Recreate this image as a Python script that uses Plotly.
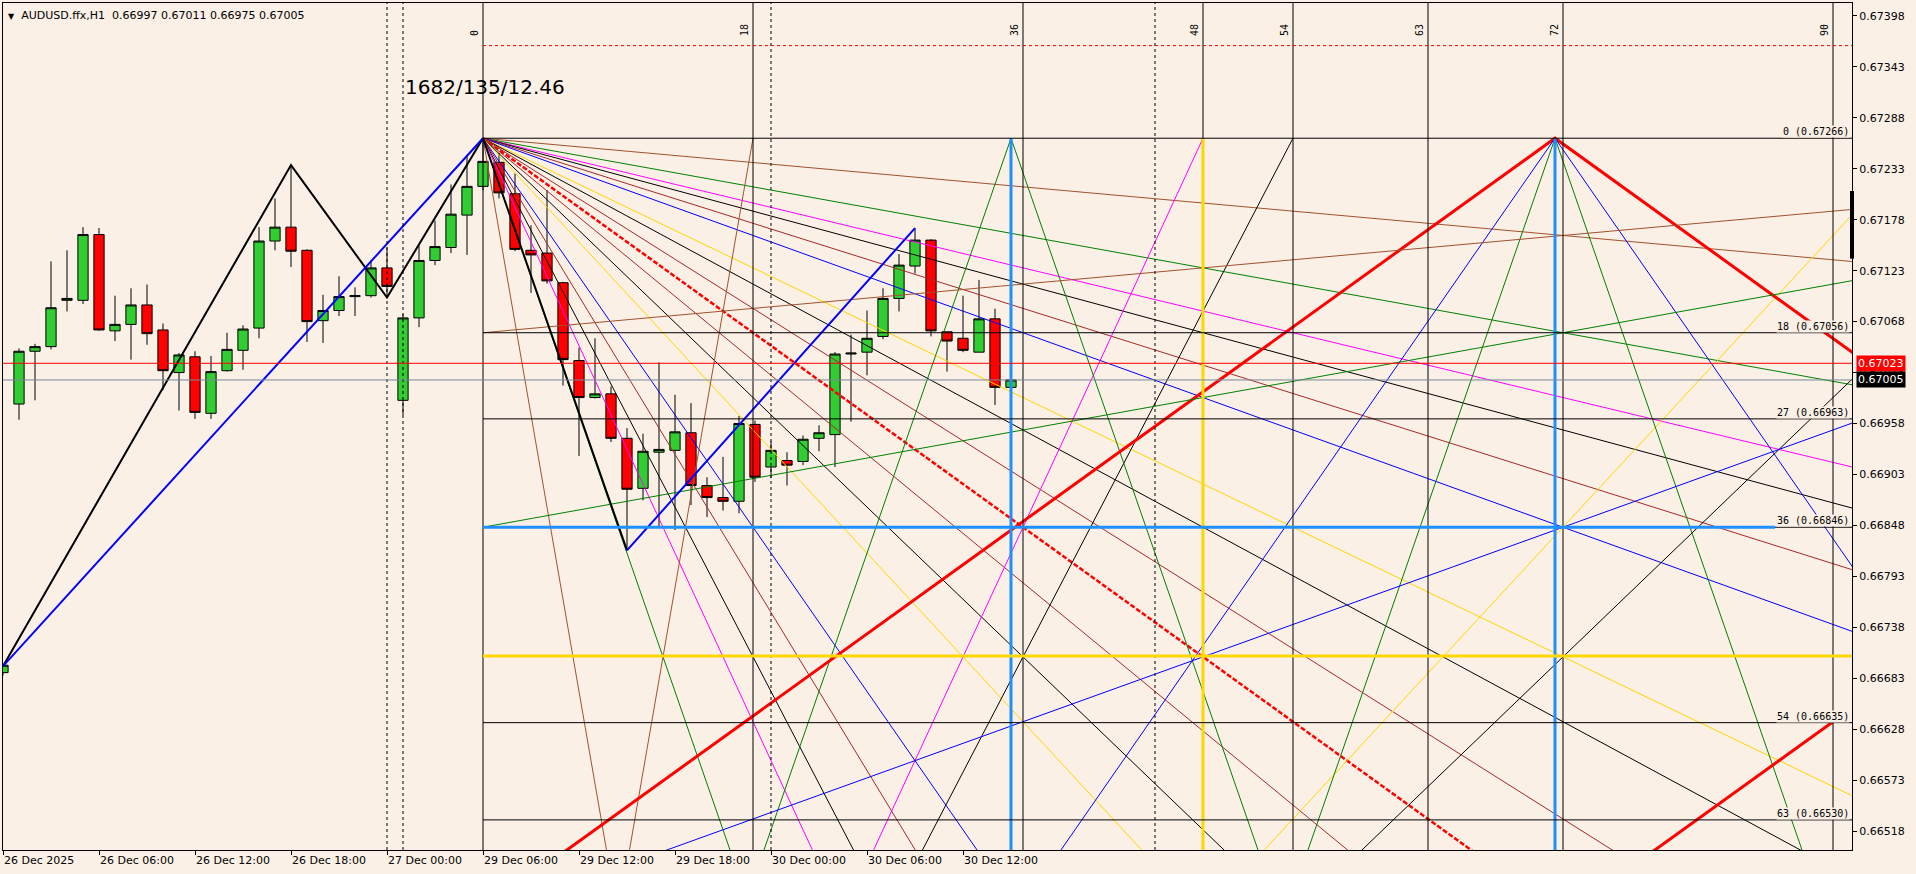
"""AUDUSD H1 chart with a Gann grid/fan overlay, MT4 style."""

import plotly.graph_objects as go

BG = "#FAF0E6"
FONT = "DejaVu Sans"
MONO = "DejaVu Sans Mono"
SIENNA = "#A0522D"
GREEN = "#008000"
MAGENTA = "#FF00FF"
BLACK = "#000000"
BROWN = "#A52A2A"
BLUE = "#0000FF"
GOLD = "#FFD700"
RED = "#FF0000"
DODGER = "#1E90FF"

# H1 candles, bar 0 = 26 Dec 2025 00:00
opens = [0.66689, 0.66979, 0.67036, 0.67041, 0.67091, 0.67091, 0.67162, 0.67058, 0.67065, 0.67086,
         0.67059, 0.67013, 0.67030, 0.66969, 0.67015, 0.67037, 0.67061, 0.67155, 0.67170, 0.67145,
         0.67069, 0.67080, 0.67095, 0.67096, 0.67126, 0.66983, 0.67072, 0.67134, 0.67148, 0.67183,
         0.67214, 0.67240, 0.67206, 0.67145, 0.67142, 0.67110, 0.67026, 0.66986, 0.66990, 0.66942,
         0.66888, 0.66927, 0.66929, 0.66948, 0.66891, 0.66878, 0.66874, 0.66957, 0.66911, 0.66918,
         0.66917, 0.66942, 0.66946, 0.67033, 0.67035, 0.67052, 0.67093, 0.67128, 0.67156, 0.67057,
         0.67050, 0.67035, 0.67071, 0.66997]
highs = [0.66699, 0.67039, 0.67044, 0.67133, 0.67145, 0.67170, 0.67169, 0.67096, 0.67104, 0.67108,
         0.67066, 0.67034, 0.67036, 0.67031, 0.67056, 0.67064, 0.67170, 0.67201, 0.67237, 0.67146,
         0.67097, 0.67117, 0.67105, 0.67134, 0.67148, 0.67076, 0.67150, 0.67177, 0.67216, 0.67248,
         0.67266, 0.67250, 0.67228, 0.67172, 0.67210, 0.67111, 0.67040, 0.67050, 0.66998, 0.66953,
         0.66947, 0.67024, 0.66989, 0.66980, 0.66900, 0.66922, 0.66966, 0.66961, 0.66939, 0.66927,
         0.66945, 0.66956, 0.67035, 0.67054, 0.67080, 0.67104, 0.67141, 0.67169, 0.67157, 0.67057,
         0.67096, 0.67113, 0.67082, 0.67011]
lows = [0.66686, 0.66962, 0.66983, 0.67038, 0.67079, 0.67087, 0.67058, 0.67047, 0.67027, 0.67043,
        0.66994, 0.66972, 0.66963, 0.66963, 0.67014, 0.67016, 0.67050, 0.67145, 0.67127, 0.67046,
        0.67045, 0.67074, 0.67074, 0.67094, 0.67094, 0.66967, 0.67062, 0.67129, 0.67142, 0.67140,
        0.67210, 0.67201, 0.67144, 0.67099, 0.67109, 0.66999, 0.66923, 0.66985, 0.66938, 0.66821,
        0.66875, 0.66845, 0.66843, 0.66870, 0.66857, 0.66864, 0.66861, 0.66895, 0.66899, 0.66891,
        0.66913, 0.66928, 0.66911, 0.66960, 0.67010, 0.67049, 0.67079, 0.67120, 0.67052, 0.67014,
        0.67035, 0.67035, 0.66978, 0.66975]
closes = [0.66697, 0.67036, 0.67041, 0.67083, 0.67093, 0.67162, 0.67059, 0.67065, 0.67086, 0.67055,
          0.67015, 0.67032, 0.66970, 0.67014, 0.67038, 0.67060, 0.67155, 0.67170, 0.67144, 0.67068,
          0.67080, 0.67095, 0.67096, 0.67126, 0.67106, 0.67072, 0.67134, 0.67149, 0.67184, 0.67214,
          0.67241, 0.67207, 0.67146, 0.67140, 0.67112, 0.67027, 0.66986, 0.66990, 0.66942, 0.66887,
          0.66928, 0.66930, 0.66949, 0.66891, 0.66878, 0.66874, 0.66958, 0.66900, 0.66929, 0.66913,
          0.66941, 0.66948, 0.67033, 0.67034, 0.67050, 0.67093, 0.67129, 0.67156, 0.67058, 0.67047,
          0.67037, 0.67071, 0.66997, 0.67005]

time_tick_bars = [0, 6, 12, 18, 24, 30, 36, 42, 48, 54, 60]
time_tick_labels = ["26 Dec 2025", "26 Dec 06:00", "26 Dec 12:00", "26 Dec 18:00", "27 Dec 00:00",
                    "29 Dec 06:00", "29 Dec 12:00", "29 Dec 18:00", "30 Dec 00:00", "30 Dec 06:00",
                    "30 Dec 12:00"]
price_ticks = [0.67398, 0.67343, 0.67288, 0.67233, 0.67178, 0.67123, 0.67068, 0.67013, 0.66958,
               0.66903, 0.66848, 0.66793, 0.66738, 0.66683, 0.66628, 0.66573, 0.66518]
x_view = [0, 115.5625]
y_view = [0.664975, 0.674120]

separator_bars = [24, 25, 48, 72]
ask_price = 0.67023
bid_price = 0.67005
dotted_level = 0.67366
axis_marker = [0.67136, 0.67209]

# Gann grid: origin at the swing high, time measured in grid units
gann_bar = 30
gann_price = 0.67266
bars_per_unit = 0.9375
price_per_unit = 0.0021 / 18

time_lines = [0, 18, 36, 48, 54, 63, 72, 90]
level_names = ["0", "18", "27", "36", "54", "63"]
level_prices = [0.67266, 0.67056, 0.66963, 0.66846, 0.66635, 0.66530]
gold_level = 0.66707
gold_time = 48
blue_level = 0.66846
blue_level_end_bar = 110.75

fan_ratios = [1/8, 1/4, 1/3, 3/8, 7/16, 1/2, 2/3, 3/4, 7/8, 1, 8/7, 4/3, 3/2, 2, 16/7, 8/3, 3, 4, 8]
fan_colors = [SIENNA, GREEN, MAGENTA, BLACK, BROWN, BLUE, GOLD, BLACK, BROWN, RED,
              BROWN, BLACK, GOLD, BLUE, BROWN, BLACK, MAGENTA, GREEN, SIENNA]

# mirrored fan rising from level 144 under the origin, cut at level 0
mirror_level = 144
mirror_ratios = [8, 3, 8/3, 3/2, 4/3]
mirror_colors = [SIENNA, MAGENTA, BLACK, GOLD, BLACK]

# V-shaped legs hanging from the two marked bars on level 0
peak_bars = [63, 97]
peak_legs = [[(4, GREEN, 1)], [(1, RED, 3), (2, BLUE, 1), (4, GREEN, 1)]]

# lines converging to (144, 0) from the origin time line
converge_levels = [18, 36, 72]
converge_colors = [SIENNA, GREEN, BLUE]

red_segment = [(72, 72), (90, 54)]

zigzag_bars = [0, 18, 24, 30, 39]
zigzag_prices = [0.66696, 0.67237, 0.67094, 0.67266, 0.66821]
trend_bars = [0, 30, None, 39, 57]
trend_prices = [0.66696, 0.67266, None, 0.66821, 0.67169]


def ux(t):
    return gann_bar + t * bars_per_unit


def uy(level):
    return gann_price - level * price_per_unit


fig = go.Figure()

fig.add_trace(go.Candlestick(
    x=list(range(len(opens))), open=opens, high=highs, low=lows, close=closes,
    increasing=dict(line=dict(color=BLACK, width=1), fillcolor="#32CD32"),
    decreasing=dict(line=dict(color=BLACK, width=1), fillcolor=RED),
    whiskerwidth=0, hoverinfo="skip",
))


def seg(xs, ys, color, width=1, dash="solid"):
    fig.add_trace(go.Scatter(
        x=xs, y=ys, mode="lines", hoverinfo="skip",
        line=dict(color=color, width=width, dash=dash),
    ))


for r, c in zip(fan_ratios, fan_colors):
    if r == 1:
        seg([ux(0), ux(100)], [uy(0), uy(100)], c, 2.5, "5px,2px")
    else:
        seg([ux(0), ux(100)], [uy(0), uy(100 * r)], c)

for r, c in zip(mirror_ratios, mirror_colors):
    seg([ux(0), ux(mirror_level / r)], [uy(mirror_level), uy(0)], c)

for b, legs in zip(peak_bars, peak_legs):
    t = (b - gann_bar) / bars_per_unit
    for r, c, w in legs:
        seg([ux(t - 72 / r), ux(t), ux(t + 72 / r)], [uy(72), uy(0), uy(72)], c, w)

for lv, c in zip(converge_levels, converge_colors):
    seg([ux(0), ux(144)], [uy(lv), uy(0)], c)

seg([ux(p[0]) for p in red_segment], [uy(p[1]) for p in red_segment], RED, 3)

seg(zigzag_bars, zigzag_prices, BLACK, 2)
seg(trend_bars, trend_prices, BLUE, 2)

# vertical lines
for b in separator_bars:
    fig.add_shape(type="line", xref="x", yref="paper", x0=b, x1=b, y0=0, y1=1,
                  line=dict(color=BLACK, width=1, dash="3px,3px"))
for t in time_lines:
    fig.add_shape(type="line", xref="x", yref="paper", x0=ux(t), x1=ux(t), y0=0, y1=1,
                  line=dict(color=BLACK, width=1))
    fig.add_annotation(x=ux(t), y=0.673742, xref="x", yref="y", text=str(t), textangle=-90,
                       showarrow=False, xanchor="center", yanchor="bottom", xshift=-9,
                       font=dict(family=MONO, size=10, color=BLACK))
fig.add_shape(type="line", xref="x", yref="y", x0=ux(gold_time), x1=ux(gold_time),
              y0=gann_price, y1=y_view[0], line=dict(color=GOLD, width=3))
for b in peak_bars:
    fig.add_shape(type="line", xref="x", yref="y", x0=b, x1=b, y0=gann_price, y1=y_view[0],
                  line=dict(color=DODGER, width=3))

# horizontal levels
fig.add_shape(type="line", xref="x", yref="y", x0=gann_bar, x1=x_view[1], y0=dotted_level,
              y1=dotted_level, line=dict(color=RED, width=1, dash="3px,3px"))
for name, p in zip(level_names, level_prices):
    fig.add_shape(type="line", xref="x", yref="y", x0=gann_bar, x1=x_view[1], y0=p, y1=p,
                  line=dict(color=BLACK, width=1))
fig.add_shape(type="line", xref="x", yref="y", x0=gann_bar, x1=blue_level_end_bar,
              y0=blue_level, y1=blue_level, line=dict(color=DODGER, width=3))
fig.add_shape(type="line", xref="x", yref="y", x0=gann_bar, x1=x_view[1], y0=gold_level,
              y1=gold_level, line=dict(color=GOLD, width=3))
fig.add_shape(type="line", xref="paper", yref="y", x0=0, x1=1, y0=ask_price, y1=ask_price,
              line=dict(color=RED, width=1))
fig.add_shape(type="line", xref="paper", yref="y", x0=0, x1=1, y0=bid_price, y1=bid_price,
              line=dict(color="#778899", width=1))
fig.add_shape(type="line", xref="paper", yref="y", x0=1, x1=1, y0=axis_marker[0],
              y1=axis_marker[1], line=dict(color=BLACK, width=4))

for name, p in zip(level_names, level_prices):
    fig.add_annotation(x=1, y=p, xref="paper", yref="y", text=f"{name} ({p:.5f})",
                       showarrow=False, xanchor="right", yanchor="bottom", xshift=-2,
                       bgcolor=BG, borderpad=0, font=dict(family=MONO, size=10, color=BLACK))

fig.add_annotation(x=1, y=ask_price, xref="paper", yref="y", text=f"{ask_price:.5f}",
                   showarrow=False, xanchor="left", yanchor="middle", xshift=4, bgcolor=RED,
                   borderpad=1, font=dict(family=FONT, size=11, color="white"))
fig.add_annotation(x=1, y=bid_price, xref="paper", yref="y", text=f"{bid_price:.5f}",
                   showarrow=False, xanchor="left", yanchor="middle", xshift=4, bgcolor=BLACK,
                   borderpad=1, font=dict(family=FONT, size=11, color="white"))

fig.add_annotation(x=25, y=0.673213, xref="x", yref="y", text="1682/135/12.46",
                   showarrow=False, xanchor="left", yanchor="middle",
                   font=dict(family=FONT, size=20, color=BLACK))
fig.add_annotation(x=0, y=0.9858, xref="paper", yref="paper",
                   text='<span style="font-size:8px">▼</span>\u00a0 AUDUSD.ffx,H1\u00a0\u00a0'
                        f'{opens[-1]:.5f} {highs[-1]:.5f} {lows[-1]:.5f} {closes[-1]:.5f}',
                   showarrow=False, xanchor="left", yanchor="middle", xshift=3,
                   font=dict(family=FONT, size=11, color=BLACK))

axis_font = dict(family=FONT, size=11, color=BLACK)
fig.update_layout(
    width=1916, height=874,
    margin=dict(l=3, r=64, t=3, b=24),
    paper_bgcolor=BG, plot_bgcolor=BG,
    showlegend=False,
    boxgap=0.2, boxgroupgap=0.2,
    xaxis=dict(
        range=x_view, tickvals=time_tick_bars, ticktext=time_tick_labels,
        ticks="outside", ticklen=4, tickcolor=BLACK, ticklabelposition="outside right",
        showgrid=False, zeroline=False, showline=True, linecolor=BLACK, mirror=True,
        rangeslider=dict(visible=False), tickfont=axis_font, automargin=False,
    ),
    yaxis=dict(
        side="right", range=y_view, tickvals=price_ticks,
        ticktext=[f"{v:.5f}" for v in price_ticks],
        ticks="outside", ticklen=4, tickcolor=BLACK,
        showgrid=False, zeroline=False, showline=True, linecolor=BLACK, mirror=True,
        tickfont=axis_font, automargin=False,
    ),
)

# the page body has a default 8px margin; drop it so the chart fills the window
fig.write_html("out.html", config={"displayModeBar": False},
               post_script="document.body.style.margin='0';")
